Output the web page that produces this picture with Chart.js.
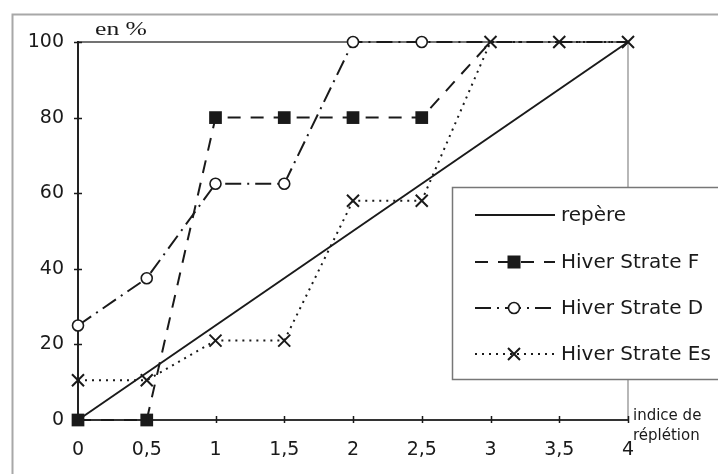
<!DOCTYPE html>
<html>
<head>
<meta charset="utf-8">
<script src="https://cdn.jsdelivr.net/npm/chart.js@4/dist/chart.umd.min.js"></script>
<style>
  html, body { margin: 0; padding: 0; background: #fff; }
  #wrap { width: 718px; height: 474px; position: relative; }
</style>
</head>
<body>
<div id="wrap"><canvas id="chart" width="718" height="474"></canvas></div>
<script>
// Indice de réplétion (x) against cumulative percentage (y)
const indices      = [0, 0.5, 1, 1.5, 2, 2.5, 3, 3.5, 4];
const repereX      = [0, 4];
const repereY      = [0, 100];
const hiverStrateF = [0, 0, 80, 80, 80, 80, 100];
const hiverStrateD = [25, 37.5, 62.5, 62.5, 100, 100, 100, 100, 100];
const hiverStrateEs = [10.5, 10.5, 21, 21, 58, 58, 100, 100, 100];

const xTickLabels = ['0', '0,5', '1', '1,5', '2', '2,5', '3', '3,5', '4'];
const yTickLabels = ['0', '20', '40', '60', '80', '100'];
const seriesNames = ['repère', 'Hiver Strate F', 'Hiver Strate D', 'Hiver Strate Es'];
const yAxisTitle = 'en %';
const xAxisTitle = ['indice de', 'réplétion'];

const INK = '#1a1a1a';
const SANS = '"DejaVu Sans", sans-serif';

function pairs(xs, ys) {
  return ys.map((y, i) => ({ x: xs[i], y: y }));
}

// Draws one marker in the given style (used by the legend box)
function marker(ctx, style, x, y) {
  ctx.save();
  ctx.setLineDash([]);
  if (style === 'rect') {
    ctx.fillStyle = INK;
    ctx.fillRect(x - 6.5, y - 6.5, 13, 13);
  } else if (style === 'circle') {
    ctx.beginPath();
    ctx.arc(x, y, 5.5, 0, Math.PI * 2);
    ctx.fillStyle = '#fff';
    ctx.fill();
    ctx.lineWidth = 1.6;
    ctx.strokeStyle = INK;
    ctx.stroke();
  } else if (style === 'crossRot') {
    ctx.lineWidth = 2;
    ctx.strokeStyle = INK;
    ctx.beginPath();
    ctx.moveTo(x - 6, y - 6); ctx.lineTo(x + 6, y + 6);
    ctx.moveTo(x + 6, y - 6); ctx.lineTo(x - 6, y + 6);
    ctx.stroke();
  }
  ctx.restore();
}

const decor = {
  id: 'decor',
  beforeDraw(chart) {
    const ctx = chart.ctx;
    ctx.save();
    ctx.fillStyle = '#fff';
    ctx.fillRect(0, 0, chart.width, chart.height);
    // outer sheet frame
    ctx.strokeStyle = '#a8a8a8';
    ctx.lineWidth = 2;
    ctx.strokeRect(12.5, 14.5, 900, 900);
    // plot frame top and right
    const a = chart.chartArea;
    ctx.strokeStyle = '#444';
    ctx.lineWidth = 1.3;
    ctx.beginPath();
    ctx.moveTo(a.left, a.top);
    ctx.lineTo(a.right, a.top);
    ctx.stroke();
    ctx.strokeStyle = '#888';
    ctx.lineWidth = 1.2;
    ctx.beginPath();
    ctx.moveTo(a.right, a.top);
    ctx.lineTo(a.right, a.bottom);
    ctx.stroke();
    ctx.restore();
  },
  afterDraw(chart) {
    const ctx = chart.ctx;
    const xs = chart.scales.x, ys = chart.scales.y;
    const a = chart.chartArea;
    ctx.save();
    // tick marks crossing the axes
    ctx.strokeStyle = INK;
    ctx.lineWidth = 1.5;
    ctx.beginPath();
    indices.forEach(v => {
      const px = Math.round(xs.getPixelForValue(v)) + 0.5;
      ctx.moveTo(px, a.bottom - 4);
      ctx.lineTo(px, a.bottom + 3);
    });
    yTickLabels.forEach(t => {
      const py = Math.round(ys.getPixelForValue(Number(t))) + 0.5;
      ctx.moveTo(a.left - 4, py);
      ctx.lineTo(a.left + 4, py);
    });
    ctx.stroke();

    // axis titles
    ctx.fillStyle = INK;
    ctx.textBaseline = 'alphabetic';
    ctx.textAlign = 'left';
    ctx.save();
    ctx.translate(95, 35);
    ctx.scale(1.35, 1);
    ctx.font = '19px "Liberation Serif", serif';
    ctx.fillText(yAxisTitle, 0, 0);
    ctx.restore();
    ctx.font = '15px ' + SANS;
    ctx.fillText(xAxisTitle[0], a.right + 5, 420);
    ctx.fillText(xAxisTitle[1], a.right + 5, 440);

    // legend box
    const bx = 452, by = 187, bw = 300, bh = 192;
    ctx.fillStyle = '#fff';
    ctx.fillRect(bx, by, bw, bh);
    ctx.strokeStyle = '#777';
    ctx.lineWidth = 1.5;
    ctx.strokeRect(bx + 0.5, by + 0.5, bw, bh);
    const rows = [215, 262, 308, 354];
    chart.data.datasets.forEach((ds, i) => {
      const y = rows[i];
      ctx.save();
      ctx.strokeStyle = INK;
      ctx.lineWidth = ds.borderWidth;
      ctx.setLineDash(ds.borderDash || []);
      ctx.beginPath();
      ctx.moveTo(475, y);
      ctx.lineTo(555, y);
      ctx.stroke();
      ctx.restore();
      if (ds.pointStyle) marker(ctx, ds.pointStyle, 514, y);
      ctx.fillStyle = INK;
      ctx.font = '20px ' + SANS;
      ctx.textBaseline = 'middle';
      ctx.textAlign = 'left';
      ctx.fillText(seriesNames[i], 561, y + 1);
    });
    ctx.restore();
  }
};

const chart = new Chart(document.getElementById('chart'), {
  type: 'line',
  data: {
    datasets: [
      {
        label: seriesNames[0],
        data: pairs(repereX, repereY),
        borderColor: INK,
        borderWidth: 2,
        pointRadius: 0,
        pointStyle: false,
        clip: false
      },
      {
        label: seriesNames[1],
        data: pairs(indices, hiverStrateF),
        borderColor: INK,
        borderWidth: 2,
        borderDash: [13, 10],
        pointStyle: 'rect',
        pointRadius: [9, 9, 9, 9, 9, 9, 0],
        pointBackgroundColor: INK,
        pointBorderColor: INK,
        pointBorderWidth: 0,
        clip: false
      },
      {
        label: seriesNames[2],
        data: pairs(indices, hiverStrateD),
        borderColor: INK,
        borderWidth: 2,
        borderDash: [16, 6, 2, 6],
        pointStyle: 'circle',
        pointRadius: [5.5, 5.5, 5.5, 5.5, 5.5, 5.5, 0, 0, 0],
        pointBackgroundColor: '#fff',
        pointBorderColor: INK,
        pointBorderWidth: 1.6,
        clip: false
      },
      {
        label: seriesNames[3],
        data: pairs(indices, hiverStrateEs),
        borderColor: INK,
        borderWidth: 2,
        borderDash: [2, 5],
        pointStyle: 'crossRot',
        pointRadius: 8.5,
        pointBorderColor: INK,
        pointBorderWidth: 2,
        clip: false
      }
    ]
  },
  options: {
    responsive: false,
    animation: false,
    devicePixelRatio: 1,
    layout: { padding: { top: 42, right: 90, left: 0, bottom: 0 } },
    plugins: { legend: { display: false }, tooltip: { enabled: false } },
    elements: { line: { tension: 0 } },
    scales: {
      x: {
        type: 'linear',
        min: 0,
        max: 4,
        afterFit(s) { s.height = 54; },
        afterBuildTicks(s) { s.ticks = indices.map(v => ({ value: v })); },
        grid: { display: false, drawTicks: false },
        border: { display: true, color: '#333', width: 2 },
        ticks: {
          padding: 19,
          color: INK,
          font: { family: SANS, size: 19 },
          maxRotation: 0,
          autoSkip: false,
          callback: (v, i) => xTickLabels[i]
        }
      },
      y: {
        type: 'linear',
        min: 0,
        max: 100,
        afterFit(s) { s.width = 78; },
        afterBuildTicks(s) { s.ticks = yTickLabels.map(t => ({ value: Number(t) })); },
        grid: { display: false, drawTicks: false },
        border: { display: true, color: '#222', width: 2 },
        ticks: {
          padding: 14,
          color: INK,
          font: { family: SANS, size: 19 },
          autoSkip: false,
          callback: (v, i) => yTickLabels[i]
        }
      }
    }
  },
  plugins: [decor]
});
</script>
</body>
</html>
